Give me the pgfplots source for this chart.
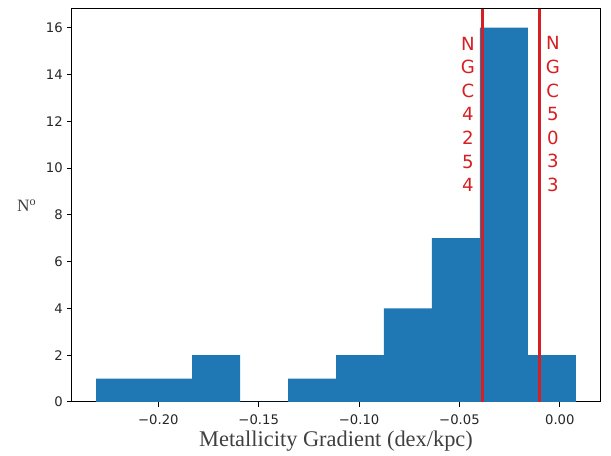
\documentclass[border=0pt]{standalone}
\usepackage{fontspec}
\setmainfont{Liberation Serif}
\newfontfamily\dejavu{DejaVu Sans}
\usepackage{pgfplots}
\pgfplotsset{compat=1.18}
\definecolor{mplblue}{HTML}{1F77B4}
\definecolor{mplred}{RGB}{215,30,35}

\begin{document}
\begin{tikzpicture}
\useasboundingbox (-54pt,-40.5pt) rectangle (404.25pt,301.5pt);
\begin{axis}[
  at={(0,0)}, anchor=south west,
  scale only axis, width=396pt, height=294.75pt,
  xmin=-0.243, xmax=0.020, ymin=0, ymax=16.8,
  axis line style={line width=0.75pt},
  xtick={-0.20,-0.15,-0.10,-0.05,0},
  xticklabels={−0.20,−0.15,−0.10,−0.05,0.00},
  ytick={0,2,4,6,8,10,12,14,16},
  yticklabels={0,2,4,6,8,10,12,14,16},
  tick label style={font=\dejavu\fontsize{9.9}{11}\selectfont, color=black!85},
  xticklabel style={yshift=-2.5pt},
  tick align=outside, xtick pos=bottom, ytick pos=left,
  major tick length=3.4pt, tick style={line width=0.75pt, color=black},
  xlabel={Metallicity Gradient (dex/kpc)},
  ylabel={N\textsuperscript{o}},
  every axis x label/.style={at={(axis description cs:0.5,0)}, anchor=center, yshift=-29.5pt, font=\fontsize{16.8}{19}\selectfont, color=black!75},
  every axis y label/.style={at={(axis description cs:0,0.5)}, anchor=center, xshift=-34pt, font=\fontsize{13}{15}\selectfont, color=black!75},
]
\addplot[ybar interval, fill=mplblue, draw=none] coordinates {
  (-0.2310,1) (-0.2071,1) (-0.1832,2) (-0.1593,0) (-0.1354,1)
  (-0.1115,2) (-0.0876,4) (-0.0637,7) (-0.0398,16) (-0.0159,2) (0.0080,2)
};
\addplot[mplred, line width=2.2pt] coordinates {(-0.0385,0) (-0.0385,16.8)};
\addplot[mplred, line width=2.2pt] coordinates {(-0.010,0) (-0.010,16.8)};
\node[text=mplred, align=center, font=\dejavu\fontsize{13.6}{17.7}\selectfont] at (axis cs:-0.0458,12.3) {N\\G\\C\\4\\2\\5\\4};
\node[text=mplred, align=center, font=\dejavu\fontsize{13.6}{17.7}\selectfont] at (axis cs:-0.0035,12.3) {N\\G\\C\\5\\0\\3\\3};
\end{axis}
\end{tikzpicture}
\end{document}
